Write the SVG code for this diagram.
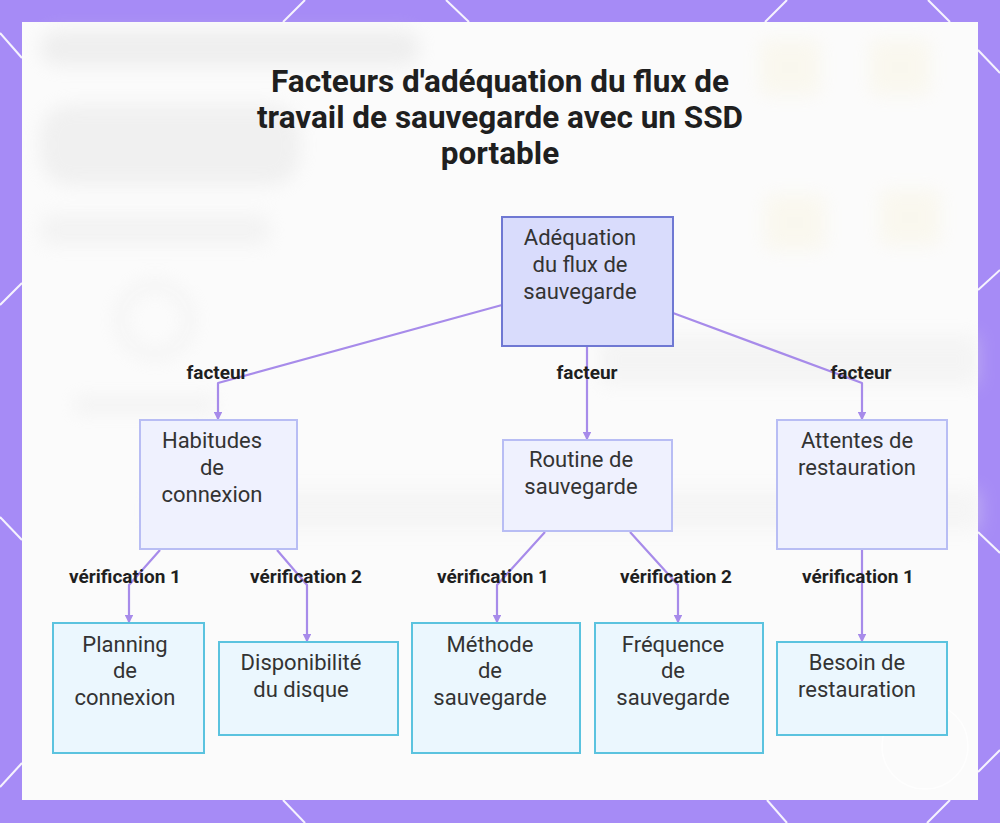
<svg xmlns="http://www.w3.org/2000/svg" width="1000" height="823" viewBox="0 0 1000 823">
<defs>
<style>
.title{font-family:Roboto,"Liberation Sans",sans-serif;font-weight:700;font-size:31.5px;fill:#1f1f1f;text-anchor:middle}
.nt{font-family:Roboto,"Liberation Sans",sans-serif;font-size:22px;fill:#333;text-anchor:middle}
.el{font-family:Roboto,"Liberation Sans",sans-serif;font-weight:700;font-size:19px;fill:#1f1f1f;text-anchor:middle}
.root{fill:#d9dcfc;stroke:#6f78d3;stroke-width:2}
.mid{fill:#eff1fe;stroke:#b8bdf4;stroke-width:2}
.leaf{fill:#ebf7fe;stroke:#5bc3df;stroke-width:2}
.edge{fill:none;stroke:#a78bea;stroke-width:2.2;stroke-linejoin:round}
.deco{stroke:#ffffff;stroke-width:2;opacity:0.9}
</style>
<marker id="arr" viewBox="0 0 6 6" refX="5" refY="3" markerWidth="4" markerHeight="4" orient="auto">
<path d="M0,0 L6,3 L0,6 z" fill="#a78bea"/>
</marker>
<filter id="blur" x="-20%" y="-20%" width="140%" height="140%"><feGaussianBlur stdDeviation="9"/></filter>
</defs>
<rect x="0" y="0" width="1000" height="823" fill="#a68bf6"/>
<g id="border-lines">
<line class="deco" x1="305" y1="0" x2="283" y2="22"/>
<line class="deco" x1="446" y1="0" x2="469" y2="22"/>
<line class="deco" x1="787" y1="0" x2="765" y2="22"/>
<line class="deco" x1="928" y1="0" x2="950" y2="22"/>
<line class="deco" x1="0" y1="33" x2="22" y2="58"/>
<line class="deco" x1="0" y1="305" x2="22" y2="283"/>
<line class="deco" x1="0" y1="517" x2="22" y2="540"/>
<line class="deco" x1="0" y1="787" x2="22" y2="763"/>
<line class="deco" x1="978" y1="50" x2="1000" y2="73"/>
<line class="deco" x1="978" y1="290" x2="1000" y2="270"/>
<line class="deco" x1="978" y1="532" x2="1000" y2="553"/>
<line class="deco" x1="978" y1="772" x2="1000" y2="750"/>
<line class="deco" x1="283" y1="800" x2="305" y2="823"/>
<line class="deco" x1="767" y1="800" x2="787" y2="823"/>
<line class="deco" x1="950" y1="800" x2="927" y2="823"/>
</g>
<rect x="22" y="22" width="956" height="778" fill="#fbfbfb"/>
<g id="backdrop" filter="url(#blur)" opacity="0.35">
<rect x="40" y="30" width="380" height="36" rx="18" fill="#d8d8d8"/>
<rect x="40" y="105" width="260" height="80" rx="30" fill="#dcdcdc"/>
<rect x="40" y="215" width="230" height="30" rx="10" fill="#e4e4e4"/>
<circle cx="155" cy="320" r="35" fill="none" stroke="#dddddd" stroke-width="8"/>
<rect x="75" y="398" width="140" height="14" fill="#e0e0e0"/>
<rect x="600" y="335" width="378" height="50" fill="#e8e8e8"/>
<rect x="760" y="40" width="60" height="55" fill="#f8f2d8"/>
<rect x="870" y="40" width="60" height="55" fill="#f8f2d8"/>
<rect x="765" y="195" width="60" height="55" fill="#f8f2d8"/>
<rect x="880" y="190" width="60" height="55" fill="#f8f2d8"/>
<rect x="150" y="490" width="830" height="40" fill="#ebebeb"/>
</g>
<circle cx="925" cy="746" r="43" fill="none" stroke="#ffffff" stroke-width="1.5" opacity="0.8"/>
<g id="title">
<text class="title" x="500" y="92">Facteurs d'adéquation du flux de</text>
<text class="title" x="500" y="128">travail de sauvegarde avec un SSD</text>
<text class="title" x="500" y="164">portable</text>
</g>
<g id="connectors">
<path class="edge" d="M502,305 L218,383 L218,419" marker-end="url(#arr)"/>
<path class="edge" d="M587,346 L587,439" marker-end="url(#arr)"/>
<path class="edge" d="M673,313 L862,383 L862,419" marker-end="url(#arr)"/>
<path class="edge" d="M160,550 L129,585 L129,622" marker-end="url(#arr)"/>
<path class="edge" d="M277,550 L307,585 L307,641" marker-end="url(#arr)"/>
<path class="edge" d="M545,532 L497,585 L497,622" marker-end="url(#arr)"/>
<path class="edge" d="M630,532 L678,585 L678,622" marker-end="url(#arr)"/>
<path class="edge" d="M862,549 L862,641" marker-end="url(#arr)"/>
<text class="el" x="217" y="379">facteur</text>
<text class="el" x="587" y="379">facteur</text>
<text class="el" x="861" y="379">facteur</text>
<text class="el" x="125" y="583">vérification 1</text>
<text class="el" x="306" y="583">vérification 2</text>
<text class="el" x="493" y="583">vérification 1</text>
<text class="el" x="676" y="583">vérification 2</text>
<text class="el" x="858" y="583">vérification 1</text>
</g>
<g id="root">
<rect class="root" x="502" y="217" width="171" height="129"/>
<text class="nt" x="580" y="245">Adéquation</text>
<text class="nt" x="580" y="272">du flux de</text>
<text class="nt" x="580" y="299">sauvegarde</text>
</g>
<g id="habitudes">
<rect class="mid" x="140" y="420" width="157" height="129"/>
<text class="nt" x="212" y="448">Habitudes</text>
<text class="nt" x="212" y="475">de</text>
<text class="nt" x="212" y="502">connexion</text>
</g>
<g id="routine">
<rect class="mid" x="503" y="440" width="169" height="91"/>
<text class="nt" x="581" y="467">Routine de</text>
<text class="nt" x="581" y="494">sauvegarde</text>
</g>
<g id="attentes">
<rect class="mid" x="777" y="420" width="170" height="129"/>
<text class="nt" x="857" y="448">Attentes de</text>
<text class="nt" x="857" y="475">restauration</text>
</g>
<g id="planning">
<rect class="leaf" x="53" y="623" width="151" height="130"/>
<text class="nt" x="125" y="652">Planning</text>
<text class="nt" x="125" y="678">de</text>
<text class="nt" x="125" y="705">connexion</text>
</g>
<g id="disponibilite">
<rect class="leaf" x="219" y="642" width="179" height="93"/>
<text class="nt" x="301" y="670">Disponibilité</text>
<text class="nt" x="301" y="697">du disque</text>
</g>
<g id="methode">
<rect class="leaf" x="412" y="623" width="168" height="130"/>
<text class="nt" x="490" y="652">Méthode</text>
<text class="nt" x="490" y="678">de</text>
<text class="nt" x="490" y="705">sauvegarde</text>
</g>
<g id="frequence">
<rect class="leaf" x="595" y="623" width="168" height="130"/>
<text class="nt" x="673" y="652">Fréquence</text>
<text class="nt" x="673" y="678">de</text>
<text class="nt" x="673" y="705">sauvegarde</text>
</g>
<g id="besoin">
<rect class="leaf" x="777" y="642" width="170" height="93"/>
<text class="nt" x="857" y="670">Besoin de</text>
<text class="nt" x="857" y="697">restauration</text>
</g>
</svg>
